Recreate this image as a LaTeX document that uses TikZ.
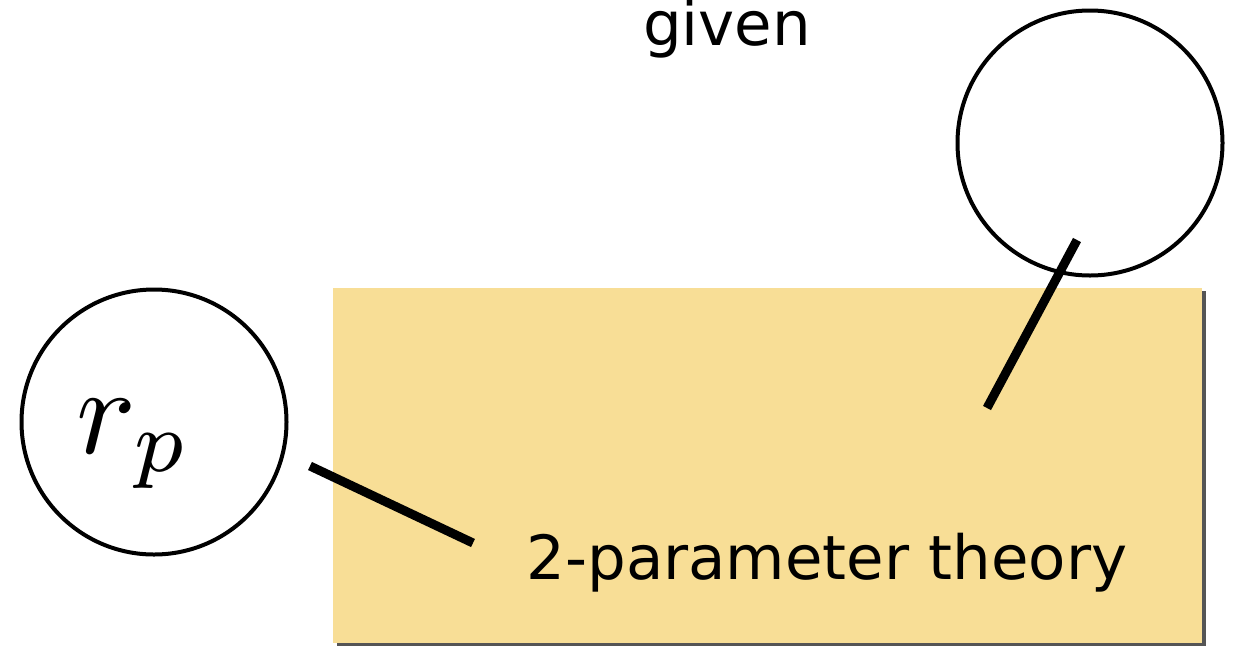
\documentclass[tikz,border=0pt]{standalone}
\usepackage{fontspec}
\usepackage{graphicx}
\setmainfont{DejaVu Sans}
\definecolor{boxfill}{RGB}{248,222,150}
\definecolor{shadowgray}{RGB}{85,85,85}
\begin{document}
\begin{tikzpicture}[x=1pt,y=-1pt,
  ring/.style={draw=black,line width=4pt,circle,minimum size=265pt,inner sep=0pt},
  thickline/.style={line width=9pt,black},
  label/.style={font=\fontsize{61}{70}\selectfont,anchor=base,inner sep=0pt}]
\useasboundingbox (0,0) rectangle (1234,646);
% box with shadow
\fill[shadowgray] (337,291) rectangle (1206,646);
\node[fill=boxfill,draw=none,anchor=north west,minimum width=869pt,minimum height=355pt,inner sep=0pt] (box) at (333,288) {};
% circles
\node[ring] (left) at (154,422) {};
\node[ring] (right) at (1090,143) {};
% math label
\node[inner sep=0pt] (rp) at (134,444) {\scalebox{12.5}{$r_p$}};
% texts
\node[label] (given) at (727,45) {given};
\node[label] (theory) at (827,579) {2-parameter theory};
% connectors
\coordinate (la) at (310,466);
\coordinate (lb) at (473,543);
\coordinate (ra) at (1077,240);
\coordinate (rb) at (987,408);
\draw[thickline] (la) -- (lb);
\draw[thickline] (ra) -- (rb);
\end{tikzpicture}
\end{document}
